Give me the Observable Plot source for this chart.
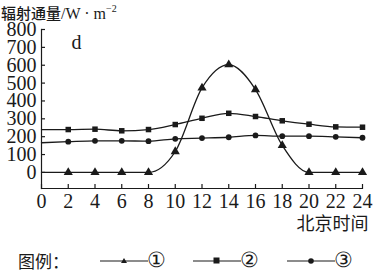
<!DOCTYPE html>
<html><head><meta charset="utf-8">
<script src="https://cdn.jsdelivr.net/npm/d3@7"></script>
<script src="https://cdn.jsdelivr.net/npm/@observablehq/plot@0.6"></script>
<style>
body{margin:0;background:#fff;width:374px;height:273px;position:relative;overflow:hidden;font-family:"Liberation Serif",serif;color:#1a1a1a}
#chart{position:absolute;left:0;top:0}
.ov{position:absolute;white-space:nowrap}
.cjk{font-family:"Noto Sans CJK SC",sans-serif}
#title{left:1px;top:0px;font-size:16px;line-height:18px}
#title .cjk{font-size:15px;font-weight:500}
#title sup{font-size:10px;vertical-align:7px}
.leg{top:250px;font-size:17px;line-height:22px}
.num{font-size:21px;top:249px}
</style></head>
<body>
<div id="chart"></div>
<div id="title" class="ov"><span class="cjk">辐射通量</span>/W · m<sup>−2</sup></div>
<div id="legend"></div>
<script>
const hours = [0, 2, 4, 6, 8, 10, 12, 14, 16, 18, 20, 22, 24];
const s1 = [0, 0, 0, 0, 0, 117, 473, 603, 464, 151, 0, 0, 0];
const s2 = [240, 240, 242, 233, 240, 268, 303, 331, 313, 289, 270, 255, 253];
const s3 = [166, 172, 177, 177, 175, 188, 192, 197, 207, 203, 203, 199, 194];
const yTicks = [0, 100, 200, 300, 400, 500, 600, 700, 800];
const xTicks = [0, 2, 4, 6, 8, 10, 12, 14, 16, 18, 20, 22, 24];
const seriesNames = ["①", "②", "③"];
const panelLabel = "d";
const xLabel = "北京时间";
const legendTitle = "图例：";

const ink = "#1a1a1a";
const rows = hours.map((h, i) => ({h, s1: s1[i], s2: s2[i], s3: s3[i]}));
const marked = rows.slice(1);

const chart = Plot.plot({
  width: 374, height: 273,
  marginTop: 29, marginBottom: 85, marginLeft: 41, marginRight: 12,
  x: {domain: [0, 24]},
  y: {domain: [-90, 800]},
  style: {fontFamily: "Liberation Serif", fontSize: "20px", color: ink, background: "transparent"},
  marks: [
    Plot.frame({anchor: "left", stroke: ink, strokeWidth: 1.2}),
    Plot.frame({anchor: "bottom", stroke: ink, strokeWidth: 1.2}),
    Plot.axisY({ticks: yTicks, tickSize: 0, tickPadding: 5, label: null}),
    Plot.axisY({ticks: yTicks, tickSize: -4, tickFormat: () => "", label: null, strokeWidth: 1.2}),
    Plot.axisX({ticks: xTicks, tickSize: 0, tickPadding: 5, label: null}),
    Plot.axisX({ticks: xTicks, tickSize: -4, tickFormat: () => "", label: null, strokeWidth: 1.2}),
    Plot.line(rows, {x: "h", y: "s2", curve: "monotone-x", stroke: ink, strokeWidth: 1.3}),
    Plot.line(rows, {x: "h", y: "s3", curve: "monotone-x", stroke: ink, strokeWidth: 1.3}),
    Plot.line(rows, {x: "h", y: "s1", curve: "monotone-x", stroke: ink, strokeWidth: 1.3}),
    Plot.dot(marked, {x: "h", y: "s1", symbol: "triangle", r: 3.4, fill: ink, stroke: "none"}),
    Plot.dot(marked, {x: "h", y: "s2", symbol: "square", r: 3.1, fill: ink, stroke: "none"}),
    Plot.dot(marked, {x: "h", y: "s3", symbol: "circle", r: 2.9, fill: ink, stroke: "none"}),
    Plot.text([panelLabel], {frameAnchor: "top-left", dx: 30, dy: 5, fontSize: 20, fill: ink}),
    Plot.text([xLabel], {frameAnchor: "bottom-right", lineAnchor: "middle", dx: 6, dy: 36, fontSize: 18, fill: ink, fontFamily: "Noto Sans CJK SC", textAnchor: "end"})
  ]
});
document.getElementById("chart").append(chart);

// legend
const legend = document.getElementById("legend");
function add(html, left, cls) {
  const d = document.createElement("div");
  d.className = "ov leg " + (cls || "");
  d.style.left = left + "px";
  d.innerHTML = html;
  legend.append(d);
}
add(legendTitle, 18, "cjk");
const syms = [
  `<polygon points="24,8 27,13 21,13" fill="${ink}"/>`,
  `<rect x="20.5" y="7.5" width="6" height="6" fill="${ink}"/>`,
  `<circle cx="24" cy="11" r="2.8" fill="${ink}"/>`
];
const lefts = [100, 193, 287];
seriesNames.forEach((n, i) => {
  add(`<svg width="48" height="22" style="display:block"><line x1="0" y1="11" x2="48" y2="11" stroke="${ink}" stroke-width="1.2"/>${syms[i]}</svg>`, lefts[i]);
  add(n, lefts[i] + 47, "num");
});
</script>
</body></html>
